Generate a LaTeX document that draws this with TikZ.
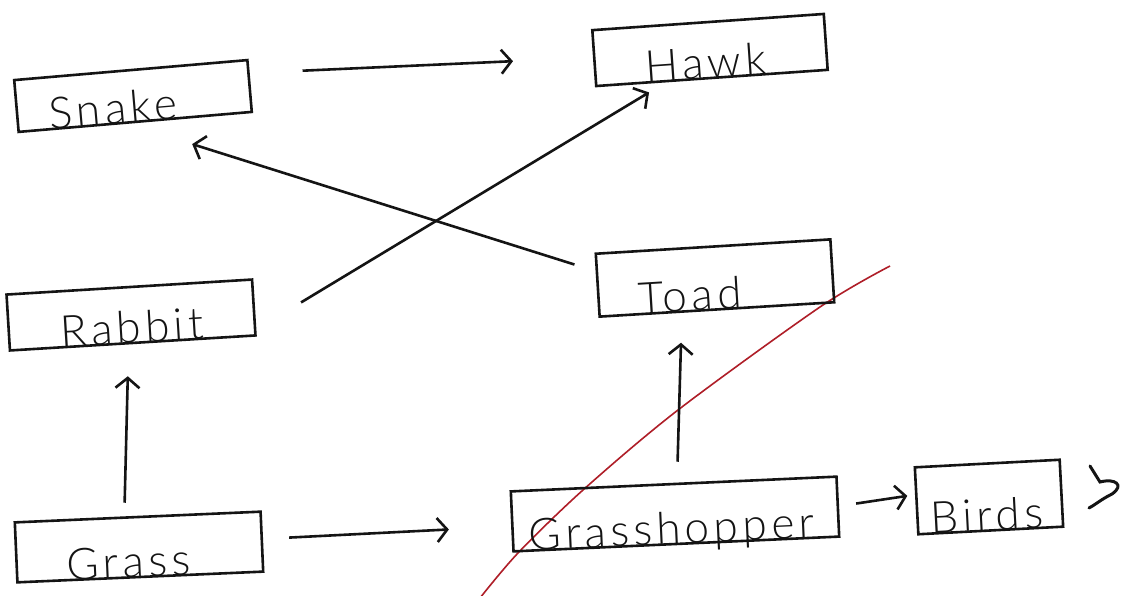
\documentclass[tikz,border=0pt]{standalone}
\usepackage{fontspec}
\setmainfont{Lato Light}[LetterSpace=10]
\usetikzlibrary{arrows.meta,calc}
\definecolor{ink}{RGB}{20,20,20}
\definecolor{margin}{RGB}{175,30,40}
\begin{document}
\begin{tikzpicture}[x=1pt,y=-1pt,
  box/.style={draw=ink, line width=2.6pt, inner sep=0pt, text depth=0pt,
    font=\fontsize{44}{44}\selectfont, text=ink},
  feeds/.style={draw=ink, line width=2.6pt,
    -{Straight Barb[length=10pt,width=24pt,line width=2.6pt]}},
  marginline/.style={draw=margin, line width=1.6pt},
]
\useasboundingbox[fill=white] (0,0) rectangle (1128,595);

% ruled margin of the notebook page
\draw[marginline] plot[smooth] coordinates
  {(890,266) (820,307) (678,410) (583,490) (518,553) (480,598)};

% organisms (the trailing space in some labels pulls the word to the left)
\node[box, minimum width=234pt, text height=52pt, rotate=4.9] (snake) at (133,96) {Snake\hspace*{42pt}};
\node[box, minimum width=232pt, text height=56pt, rotate=4.0] (hawk) at (710,50) {Hawk\hspace*{10pt}};
\node[box, minimum width=235pt, text height=63pt, rotate=3.5] (toad) at (715,278) {Toad\hspace*{52pt}};
\node[box, minimum width=246pt, text height=56pt, rotate=3.5] (rabbit) at (131,315) {Rabbit};
\node[box, minimum width=246pt, text height=60pt, rotate=2.5] (grass) at (139,547) {Grass\hspace*{22pt}};
\node[box, minimum width=326pt, text height=60pt, rotate=2.6] (grasshopper) at (675,514) {Grasshopper\hspace*{8pt}};
\node[box, minimum width=145pt, text height=67pt, rotate=3.0] (birds) at (989,497) {Birds\hspace*{6pt}};

% feeding links
\draw[feeds] ($(snake.north east)+(54,12)$) -- ($(hawk.west)+(-80,3)$);
\draw[feeds] ($(toad.north west)+(-20,12)$) -- ($(snake.south east)+(-61,31)$);
\draw[feeds] ($(rabbit.east)+(46,-5)$) -- ($(hawk.south west)+(54,5)$);
\draw[feeds] ($(grass.north)+(-13,-13)$) -- ($(rabbit.south)+(-5,32)$);
\draw[feeds] ($(grass.east)+(26,-4)$) -- ($(grasshopper.west)+(-62,8)$);
\draw[feeds] ($(grasshopper.north)+(4,-21)$) -- ($(toad.south)+(-36,32)$);
\draw[feeds] ($(grasshopper.east)+(17,-3)$) -- ($(birds.west)+(-8,-5)$);

% stray pen mark beside the last box
\draw[ink, line width=3pt, line cap=round]
  (1090,466) -- (1100,482) .. controls (1115,478) and (1125,485) .. (1112,494)
  .. controls (1100,500) and (1095,505) .. (1089,508);
\end{tikzpicture}
\end{document}
